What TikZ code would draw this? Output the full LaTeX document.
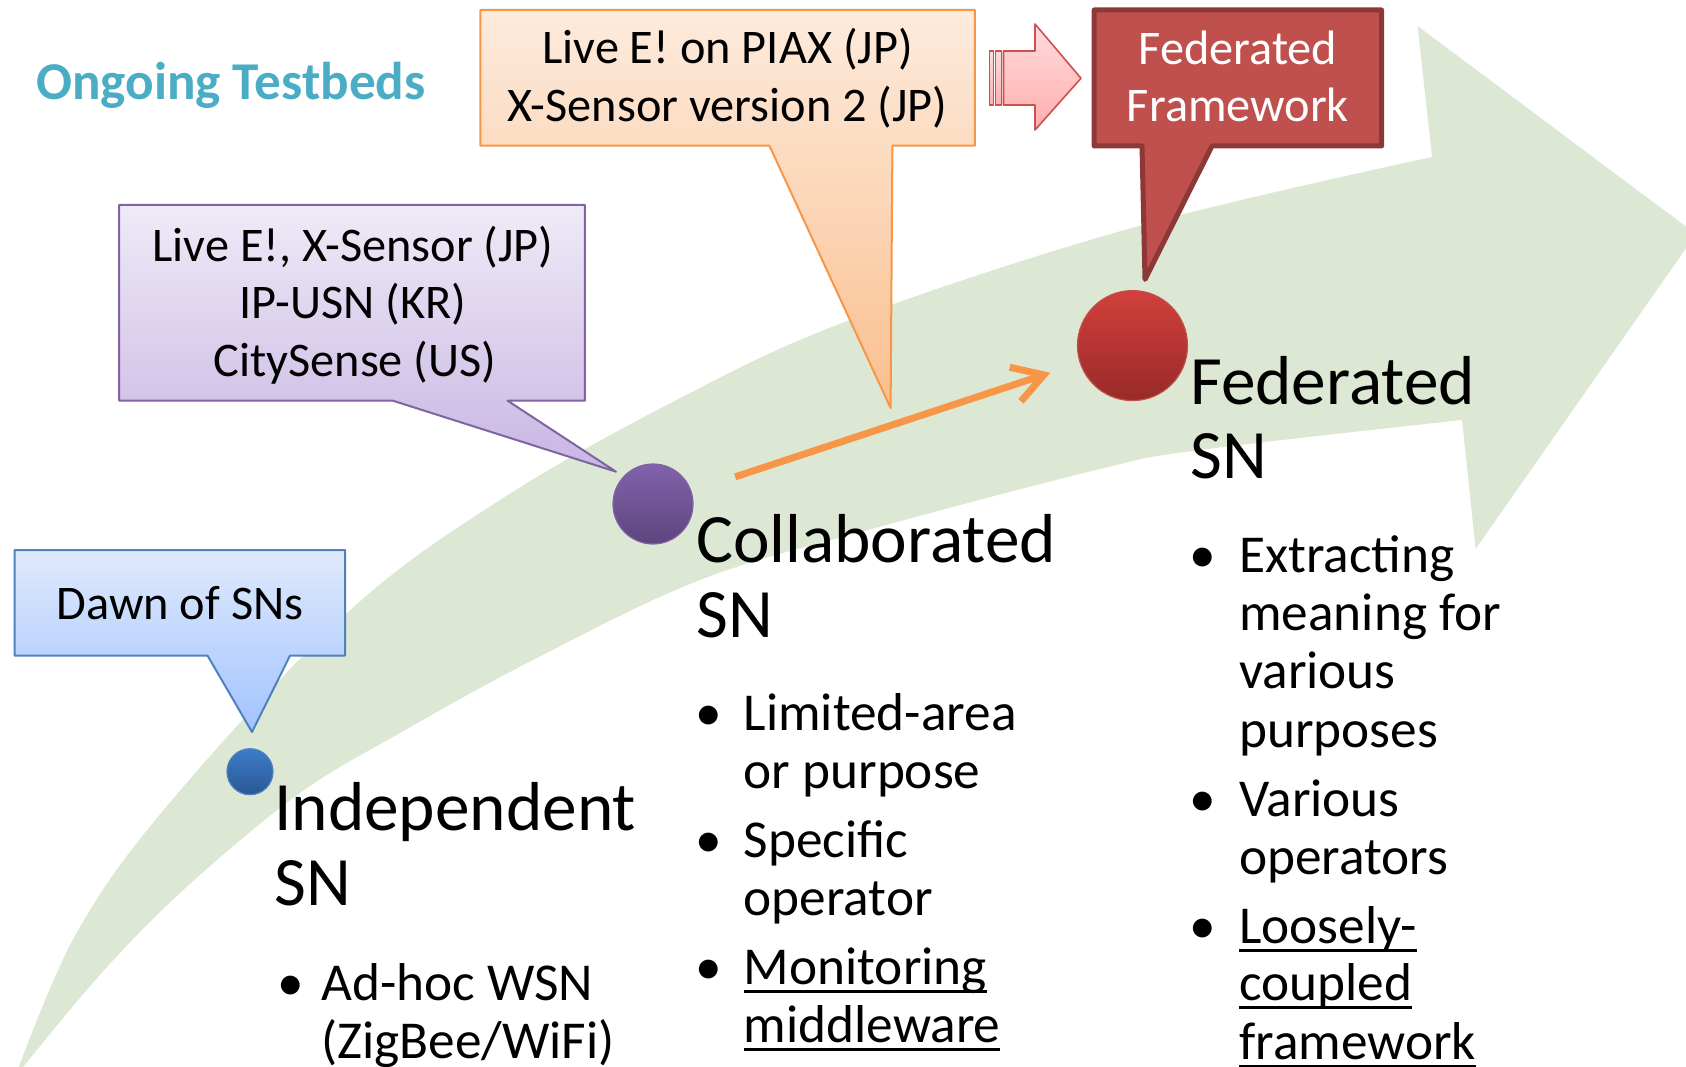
\documentclass[tikz,border=0pt]{standalone}
\usepackage{fontspec}
\setmainfont{Carlito}
\usetikzlibrary{arrows.meta}

\definecolor{titleblue}{HTML}{4BACC6}
\definecolor{bandgreen}{RGB}{221,232,212}
\definecolor{orgline}{HTML}{F79646}
\definecolor{orgtop}{HTML}{FDEBDD}
\definecolor{orgbot}{HTML}{FABF8E}
\definecolor{redfill}{HTML}{C0504D}
\definecolor{redline}{HTML}{8C3836}
\definecolor{pinktop}{HTML}{FFDCDC}
\definecolor{pinkbot}{HTML}{FFADAD}
\definecolor{pinkline}{HTML}{C9514E}
\definecolor{purline}{HTML}{8064A2}
\definecolor{purtop}{HTML}{EFEAF7}
\definecolor{purbot}{HTML}{C8B6E3}
\definecolor{bluline}{HTML}{4F81BD}
\definecolor{blutop}{HTML}{DFEAFC}
\definecolor{blubot}{HTML}{A2C3FF}

% underline drawn as a rule under the word
\newsavebox{\ulbox}
\newcommand{\ulword}[1]{\sbox{\ulbox}{#1}\rlap{\rule[-8.5pt]{\wd\ulbox}{3pt}}\usebox{\ulbox}}

\begin{document}
\begin{tikzpicture}[x=1pt, y=-1pt,
  line join=round,
  calltext/.style={anchor=base, inner sep=0pt, font=\fontsize{48.3}{57}\selectfont},
  heading/.style={anchor=base west, inner sep=0pt, font=\fontsize{69.3}{75}\selectfont},
  itemtext/.style={anchor=base west, inner sep=0pt, font=\fontsize{53.3}{58}\selectfont},
  bulletmark/.style={anchor=base, inner sep=0pt, font=\fontsize{53.3}{58}\selectfont},
  dotnode/.style={circle, inner sep=0pt, line width=1.2pt},
]
\useasboundingbox (0,0) rectangle (1686,1067);
\clip (0,0) rectangle (1686,1067);

% curved progress band with its arrow head
\fill[bandgreen]
  plot[smooth, tension=0.6] coordinates {(14,1080) (76.5,933) (172,800) (347,613) (500,500) (676.5,400) (850,320) (1135,227) (1432,157)}
  -- (1417.6,26) -- (1696,234) -- (1475.6,549)
  -- plot[smooth, tension=0.6] coordinates {(1462,420) (1200,450) (1100,469) (868,530) (700,580) (533,660) (400,733) (300,793) (191,883) (107,967) (23,1067) (14,1080)}
  -- cycle;

% title
\node[anchor=base west, inner sep=0pt, text=titleblue,
      font=\bfseries\fontsize{53.2}{60}\selectfont] (title) at (36,100) {Ongoing Testbeds};

% callout: Dawn of SNs
\path[draw=bluline, line width=2pt, top color=blutop, bottom color=blubot]
  (14.7,550) -- (345,550) -- (345,655.7) -- (290,655.7) -- (252,732)
  -- (207.6,655.7) -- (14.7,655.7) -- cycle;
\node[calltext] (dawn) at (180,619) {Dawn of SNs};

% callout: first testbeds
\path[draw=purline, line width=2pt, top color=purtop, bottom color=purbot]
  (119.2,205) -- (584.8,205) -- (584.8,400.7) -- (507.6,400.7) -- (616,471.7)
  -- (392.9,400.7) -- (119.2,400.7) -- cycle;
\node[calltext] (pa) at (353,261.7) {Live E!, X-Sensor (JP)};
\node[calltext] (pb) at (353,318.5) {IP-USN (KR)};
\node[calltext] (pc) at (355,376) {CitySense (US)};

% callout: second testbeds
\path[draw=orgline, line width=2pt, top color=orgtop, bottom color=orgbot]
  (480.3,10) -- (974.8,10) -- (974.8,145.7) -- (892.4,145.7) -- (890.6,408)
  -- (769.4,145.7) -- (480.3,145.7) -- cycle;
\node[calltext] (oa) at (727.5,64) {Live E! on PIAX (JP)};
\node[calltext] (ob) at (727.5,122) {X-Sensor version 2 (JP)};

% striped block arrow
\path[draw=pinkline, line width=1.6pt, top color=pinktop, bottom color=pinkbot]
  (989.3,51) rectangle (993.3,105);
\path[draw=pinkline, line width=1.6pt, top color=pinktop, bottom color=pinkbot]
  (995.5,51) rectangle (1001.5,105);
\path[draw=pinkline, line width=1.6pt, top color=pinktop, bottom color=pinkbot]
  (1003.5,51) -- (1035,51) -- (1035,24) -- (1081,78.3) -- (1035,130)
  -- (1035,105) -- (1003.5,105) -- cycle;

% callout: federated framework
\path[draw=redline, line width=5pt, fill=redfill]
  (1094.2,10) -- (1381.5,10) -- (1381.5,146) -- (1212,146) -- (1145,279.4)
  -- (1142,146) -- (1094.2,146) -- cycle;
\node[calltext, text=white] (ra) at (1237.9,64.3) {Federated};
\node[calltext, text=white] (rb) at (1237.9,121.7) {Framework};

% stage markers
\node[dotnode, minimum size=46pt, draw=bluline, top color={rgb,255:red,61;green,124;blue,200}, bottom color={rgb,255:red,42;green,88;blue,148}] (bdot) at (250,771.7) {};
\node[dotnode, minimum size=80pt, draw=purline, top color={rgb,255:red,129;green,98;blue,172}, bottom color={rgb,255:red,93;green,69;blue,126}] (pdot) at (653,504) {};
\node[dotnode, minimum size=110pt, draw=redfill, top color={rgb,255:red,210;green,64;blue,60}, bottom color={rgb,255:red,152;green,42;blue,40}] (rdot) at (1132.5,345.6) {};

% progression arrow
\draw[orgline, line width=7pt, shorten <=46pt, shorten >=31pt,
      -{Straight Barb[length=30pt, width=36pt]}] (pdot) -- (rdot);

% stage 1
\node[heading] (h1a) at (274,830) {Independent};
\node[heading] (h1b) at (274,905) {SN};
\node[bulletmark] (b1a) at (290.9,1000) {•};
\node[itemtext] (i1a) at (321,1000) {Ad-hoc WSN};
\node[itemtext] (i1b) at (321,1058) {(ZigBee/WiFi)};

% stage 2
\node[heading] (h2a) at (696,562) {Collaborated};
\node[heading] (h2b) at (696,637) {SN};
\node[bulletmark] (b2a) at (709,730) {•};
\node[itemtext] (i2a) at (743.5,730) {Limited-area};
\node[itemtext] (i2b) at (743.5,788) {or purpose};
\node[bulletmark] (b2b) at (709,857) {•};
\node[itemtext] (i2c) at (743.5,857) {Specific};
\node[itemtext] (i2d) at (743.5,915) {operator};
\node[bulletmark] (b2c) at (709,984) {•};
\node[itemtext] (i2e) at (743.5,984) {\ulword{Monitoring}};
\node[itemtext] (i2f) at (743.5,1042) {\ulword{middleware}};

% stage 3
\node[heading] (h3a) at (1190,404) {Federated};
\node[heading] (h3b) at (1190,478.5) {SN};
\node[bulletmark] (b3a) at (1203,572.3) {•};
\node[itemtext] (i3a) at (1239,572.3) {Extracting};
\node[itemtext] (i3b) at (1239,630.2) {meaning for};
\node[itemtext] (i3c) at (1239,688) {various};
\node[itemtext] (i3d) at (1239,747.7) {purposes};
\node[bulletmark] (b3b) at (1203,816.5) {•};
\node[itemtext] (i3e) at (1239,816.5) {Various};
\node[itemtext] (i3f) at (1239,874.3) {operators};
\node[bulletmark] (b3c) at (1203,943) {•};
\node[itemtext] (i3g) at (1239,943) {\ulword{Loosely-}};
\node[itemtext] (i3h) at (1239,1000.9) {\ulword{coupled}};
\node[itemtext] (i3i) at (1239,1059.9) {\ulword{framework}};
\end{tikzpicture}
\end{document}
